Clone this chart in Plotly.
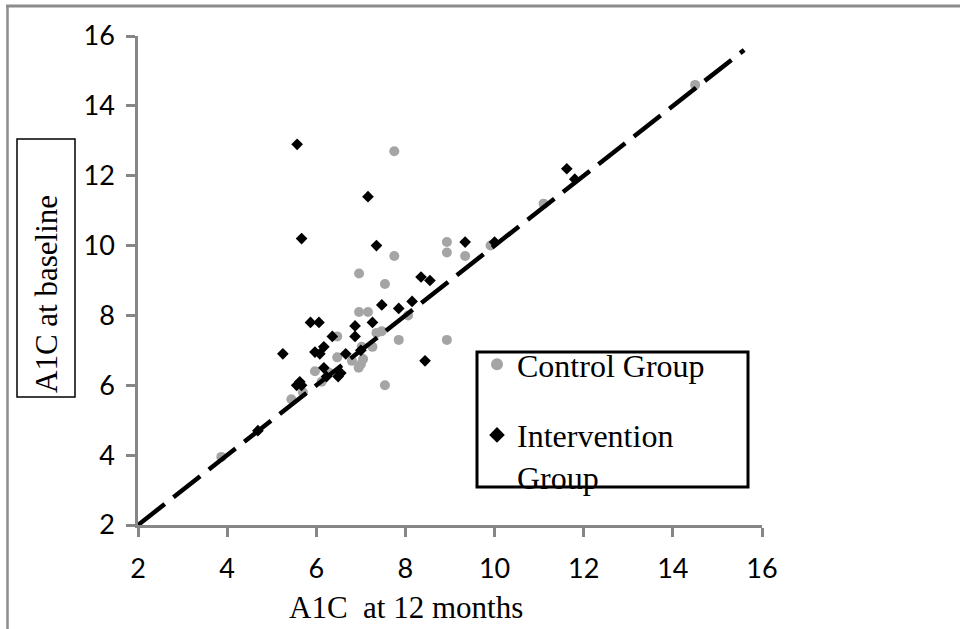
import plotly.graph_objects as go

# ---- data ----
control_x = [3.87, 5.44, 5.70, 5.97, 6.12, 6.30, 6.47, 6.47, 6.80, 6.95, 7.00, 7.05, 7.02, 7.26,
             7.47, 7.35, 7.54, 7.85, 8.06, 6.96, 7.16, 7.54, 6.96, 7.75, 7.75, 8.93, 8.93, 8.93,
             9.34, 9.91, 11.10, 14.50]
control_y = [3.95, 5.60, 5.80, 6.40, 6.10, 6.35, 6.80, 7.40, 6.70, 6.50, 6.60, 6.75, 7.10, 7.10,
             7.55, 7.50, 6.00, 7.30, 8.00, 8.10, 8.10, 8.90, 9.20, 9.70, 12.70, 10.10, 9.80, 7.30,
             9.70, 10.00, 11.20, 14.60]

interv_x = [4.69, 5.25, 5.56, 5.63, 5.67, 5.87, 6.06, 5.97, 6.08, 6.17, 6.17, 6.23, 6.49, 6.55,
            6.36, 6.66, 6.87, 6.87, 7.00, 7.26, 7.47, 7.85, 8.15, 8.35, 8.55, 8.44, 5.57, 5.67,
            7.16, 7.35, 9.34, 10.00, 11.62, 11.80]
interv_y = [4.70, 6.90, 6.00, 6.10, 6.00, 7.80, 7.80, 6.95, 6.90, 7.10, 6.50, 6.25, 6.25, 6.35,
            7.40, 6.90, 7.40, 7.70, 7.00, 7.80, 8.30, 8.20, 8.40, 9.10, 9.00, 6.70, 12.90, 10.20,
            11.40, 10.00, 10.10, 10.10, 12.20, 11.90]

ref_line_x = [2, 15.6]
ref_line_y = [2, 15.6]

tick_vals = [2, 4, 6, 8, 10, 12, 14, 16]
tick_text = ["2", "4", "6", "8", "10", "12", "14", "16"]

x_title = "A1C  at 12 months"
y_title = "A1C at baseline"

# ---- layout geometry (pixels) ----
W, H = 960, 629
L, R, T, B = 138, 198, 36, 104
PW, PH = W - L - R, H - T - B


def px(xp):
    return (xp - L) / PW


def py(yp):
    return (H - B - yp) / PH


serif = "Liberation Serif, Times New Roman, serif"
sans = "Lato, Carlito, Calibri, sans-serif"

fig = go.Figure()
fig.add_trace(go.Scatter(
    x=control_x, y=control_y, mode="markers", name="Control Group",
    legendgroup="c",
    marker=dict(symbol="circle", size=10, color="#a5a5a5", line=dict(width=0)),
))
fig.add_trace(go.Scatter(
    x=interv_x, y=interv_y, mode="markers", name="Intervention<br>Group",
    legendgroup="i",
    marker=dict(symbol="diamond", size=9, color="#000000", line=dict(width=0)),
))
fig.add_trace(go.Scatter(
    x=ref_line_x, y=ref_line_y, mode="lines", showlegend=False,
    line=dict(color="#000000", width=4.5, dash="34px,11px"),
    hoverinfo="skip",
))

axis_common = dict(
    range=[2, 16], tickvals=tick_vals, ticktext=tick_text,
    showgrid=False, zeroline=False, showline=True,
    linecolor="#868686", linewidth=2.5,
    ticks="outside", ticklen=9, tickwidth=2.5, tickcolor="#868686",
    tickfont=dict(family=sans, size=27, color="#000000"),
)

fig.update_layout(
    width=W, height=H,
    margin=dict(l=L, r=R, t=T, b=B, pad=0),
    paper_bgcolor="#ffffff", plot_bgcolor="#ffffff",
    xaxis=dict(**axis_common, ticklabelstandoff=9),
    yaxis=dict(**axis_common, ticklabelstandoff=6),
    showlegend=True,
    legend=dict(
        x=px(477), y=py(337), xanchor="left", yanchor="top",
        bgcolor="rgba(0,0,0,0)", borderwidth=0,
        font=dict(family=serif, size=32, color="#000000"),
        tracegroupgap=26, valign="top", itemsizing="constant",
    ),
    shapes=[
        # outer gray frame (top and left edges)
        dict(type="line", xref="paper", yref="paper", x0=px(6), y0=py(6), x1=px(960), y1=py(6),
             line=dict(color="#8c8c8c", width=3), layer="above"),
        dict(type="line", xref="paper", yref="paper", x0=px(7.5), y0=py(5), x1=px(7.5), y1=py(640),
             line=dict(color="#8c8c8c", width=2.5), layer="above"),
        # y-title box
        dict(type="rect", xref="paper", yref="paper", x0=px(17), x1=px(75), y0=py(397), y1=py(139),
             line=dict(color="#000000", width=1.5)),
        # legend box
        dict(type="rect", xref="paper", yref="paper", x0=px(477), x1=px(748), y0=py(487), y1=py(352),
             line=dict(color="#000000", width=3)),
    ],
    annotations=[
        dict(text=y_title, xref="paper", yref="paper", x=px(46), y=py(294), textangle=-90,
             showarrow=False, xanchor="center", yanchor="middle",
             font=dict(family=serif, size=31, color="#000000")),
        dict(text=x_title, xref="paper", yref="paper", x=px(406), y=py(607),
             showarrow=False, xanchor="center", yanchor="middle",
             font=dict(family=serif, size=31, color="#000000")),
    ],
)

fig.write_html(
    "out.html",
    config={"displayModeBar": False},
    post_script=("document.body.style.margin='0px';"
                 "document.body.style.overflow='hidden';"
                 "document.documentElement.style.overflow='hidden';"),
)
